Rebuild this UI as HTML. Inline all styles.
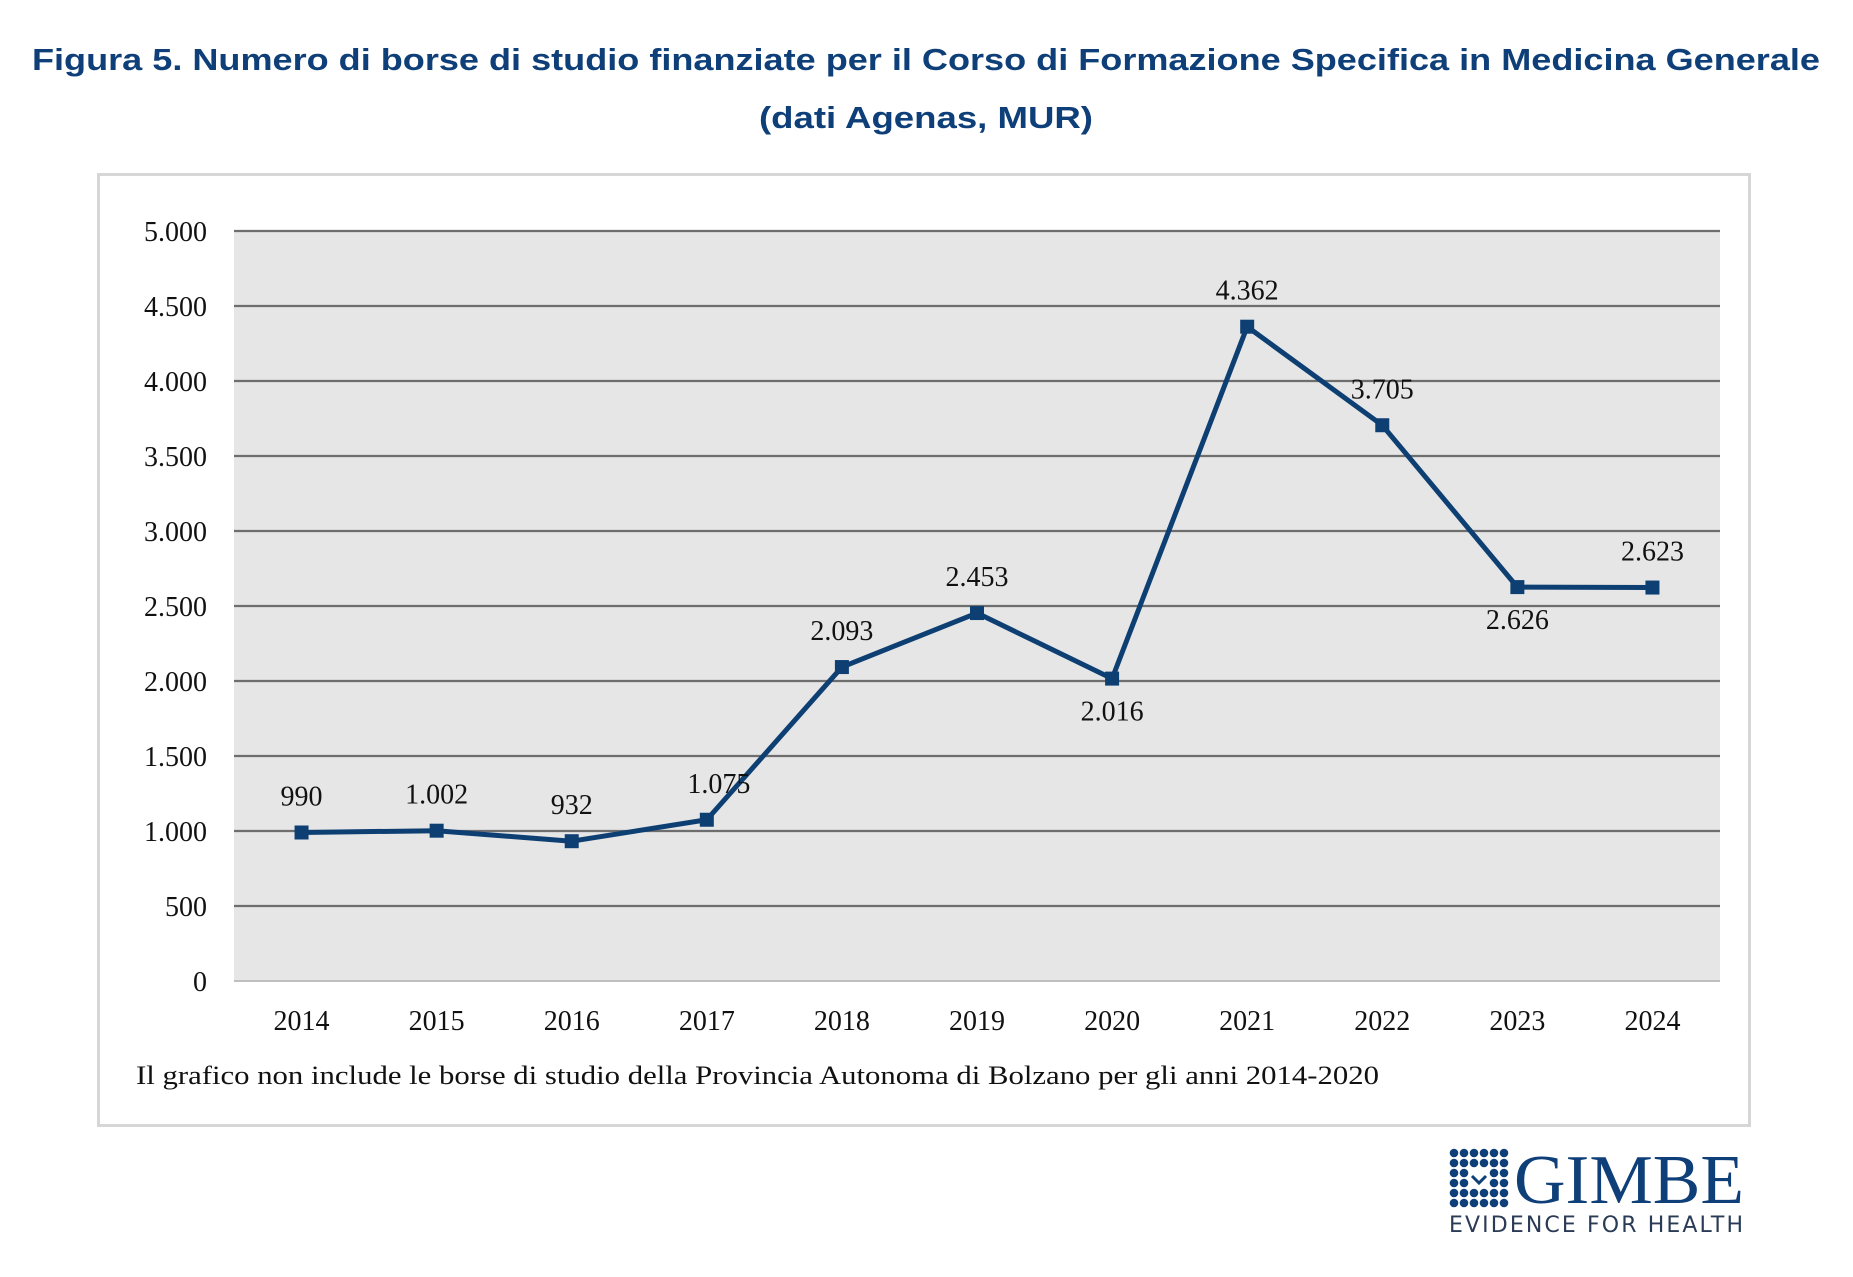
<!DOCTYPE html>
<html><head><meta charset="utf-8"><style>
body{margin:0;background:#fff;}
svg{display:block;}
</style></head><body>
<svg width="1853" height="1277" viewBox="0 0 1853 1277" xmlns="http://www.w3.org/2000/svg">
<text x="926" y="70" text-anchor="middle" font-family="Liberation Sans, sans-serif" font-weight="bold" font-size="31" fill="#0e3f78" textLength="1788" lengthAdjust="spacingAndGlyphs">Figura 5. Numero di borse di studio finanziate per il Corso di Formazione Specifica in Medicina Generale</text>
<text x="926" y="128" text-anchor="middle" font-family="Liberation Sans, sans-serif" font-weight="bold" font-size="31" fill="#0e3f78" textLength="334" lengthAdjust="spacingAndGlyphs">(dati Agenas, MUR)</text>
<rect x="98.5" y="174.5" width="1651" height="951" fill="#fff" stroke="#d6d6d6" stroke-width="3"/>
<rect x="234" y="231" width="1486" height="750" fill="#e6e6e6"/>
<g id="grid"></g>
<g id="ylabels"></g>
<g id="xlabels"></g>
<polyline id="line" fill="none" stroke="#0e3f73" stroke-width="5" stroke-linejoin="round"/>
<g id="marks"></g>
<g id="vlabels"></g>
<text x="136" y="1084" font-family="Liberation Serif, serif" font-size="26" fill="#111" textLength="1243" lengthAdjust="spacingAndGlyphs">Il grafico non include le borse di studio della Provincia Autonoma di Bolzano per gli anni 2014-2020</text>
<g>
<g id="dots" fill="#0e3f78"></g>
<text x="1514" y="1203" font-family="Liberation Serif, serif" font-size="70" fill="#0e3f78" textLength="230" lengthAdjust="spacingAndGlyphs">GIMBE</text>
<text x="1449" y="1232" font-family="DejaVu Sans, sans-serif" font-size="22" fill="#2a3b55" textLength="294" lengthAdjust="spacing">EVIDENCE FOR HEALTH</text>
</g>
</svg>
<script>
const years = ["2014","2015","2016","2017","2018","2019","2020","2021","2022","2023","2024"];
const values = [990,1002,932,1075,2093,2453,2016,4362,3705,2626,2623];
const valueLabels = ["990","1.002","932","1.075","2.093","2.453","2.016","4.362","3.705","2.626","2.623"];
const labelBelow = [false,false,false,false,false,false,true,false,false,true,false];
const yTicks = [0,500,1000,1500,2000,2500,3000,3500,4000,4500,5000];
const yTickLabels = ["0","500","1.000","1.500","2.000","2.500","3.000","3.500","4.000","4.500","5.000"];
const NS="http://www.w3.org/2000/svg";
const L=234,R=1720,T=231,B=981,YMAX=5000;
const band=(R-L)/years.length;
const x=i=>L+band*(i+0.5);
const y=v=>B-(v/YMAX)*(B-T);
function mk(tag,attrs,parent,text){const e=document.createElementNS(NS,tag);for(const k in attrs)e.setAttribute(k,attrs[k]);if(text!==undefined)e.textContent=text;document.getElementById(parent).appendChild(e);return e;}
yTicks.forEach((t,i)=>{
  const g=mk('line',{x1:L,x2:R,y1:y(t),y2:y(t),stroke:i===0?'#bfbfbf':'#6e6e6e','stroke-width':i===0?2:2.2},'grid');
  
  
  const tl=mk('text',{x:207,y:y(t)+10,'text-anchor':'end','font-family':'Liberation Serif, serif','font-size':28,fill:'#111'},'ylabels',yTickLabels[i]);
  
  
});
years.forEach((yr,i)=>{
  const t=mk('text',{x:x(i),y:1030,'text-anchor':'middle','font-family':'Liberation Serif, serif','font-size':28,fill:'#111'},'xlabels',yr);
  
  
});
document.getElementById('line').setAttribute('points',values.map((v,i)=>x(i)+','+y(v)).join(' '));
values.forEach((v,i)=>{
  const m=mk('rect',{x:x(i)-7,y:y(v)-7,width:14,height:14,fill:'#0e3f73'},'marks');
  
  
  const dx=(i===3)?12:0;
  const ly=labelBelow[i]?y(v)+42:y(v)-27;
  const l=mk('text',{x:x(i)+dx,y:ly,'text-anchor':'middle','font-family':'Liberation Serif, serif','font-size':28,fill:'#111'},'vlabels',valueLabels[i]);
  
  
});
for(let r=0;r<6;r++)for(let c=0;c<6;c++){
  if((r===2||r===3)&&(c===2||c===3))continue;
  mk('circle',{cx:1454+c*10,cy:1153+r*10,r:4.3},'dots');
}
const chk=mk('polyline',{points:'1472,1176 1479,1183 1486,1176',fill:'none',stroke:'#0e3f78','stroke-width':3},'dots');


</script>
</body></html>
